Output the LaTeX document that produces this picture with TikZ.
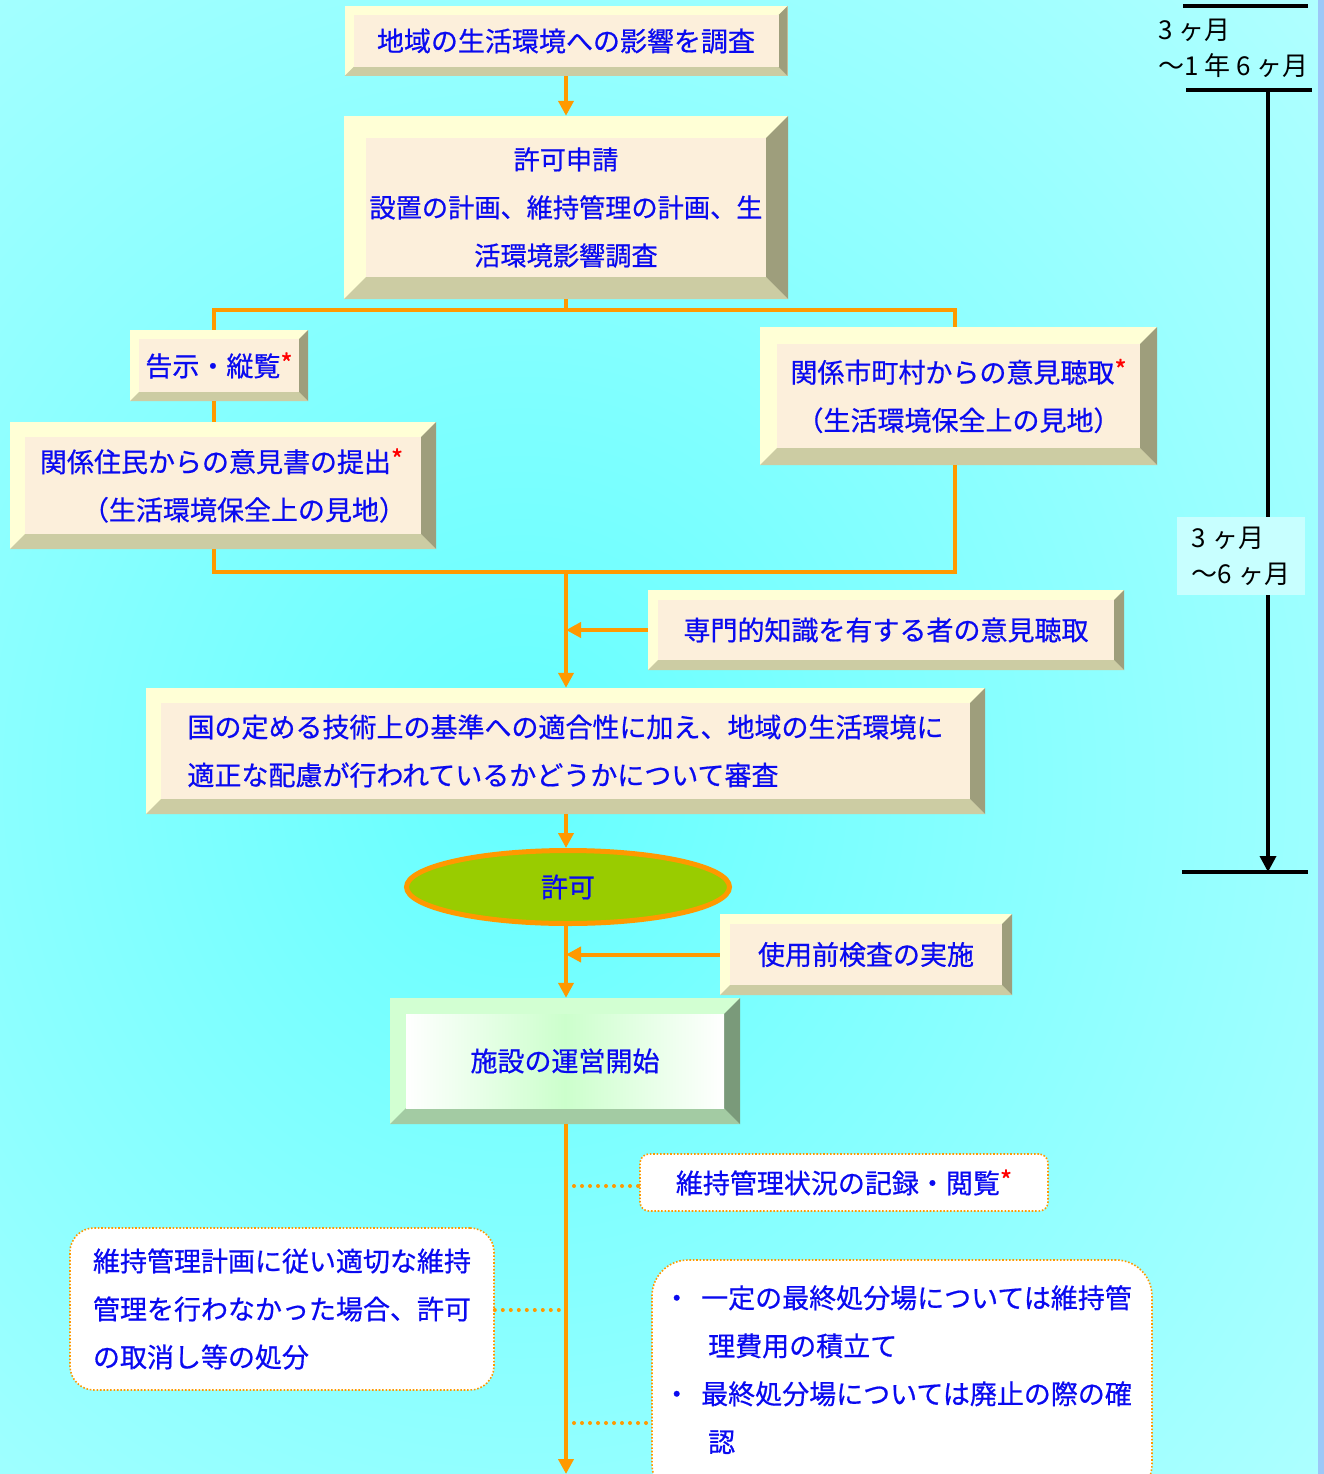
\documentclass[tikz,border=0pt]{standalone}
\usepackage{fontspec}
\setmainfont{Noto Sans CJK JP}[FakeBold=0.6]
\newfontfamily\tlfont{Noto Sans CJK JP}
\usetikzlibrary{arrows.meta,shapes.geometric}
\definecolor{bgin}{HTML}{66FFFF}
\definecolor{bgout}{HTML}{C6FFFF}
\definecolor{txtblue}{HTML}{0A0AF0}
\definecolor{org}{HTML}{FF9900}
\definecolor{bvL}{HTML}{FFFFD6}
\definecolor{bvB}{HTML}{CCCCA3}
\definecolor{bvR}{HTML}{9E9E7C}
\definecolor{bvF}{HTML}{FCEFDB}
\definecolor{gvL}{HTML}{D2FFD2}
\definecolor{gvB}{HTML}{A3CBA3}
\definecolor{gvR}{HTML}{7A9A7A}
\definecolor{gvF}{HTML}{CCFFCC}
\definecolor{kyokafill}{HTML}{99CC00}
\definecolor{edgeblue}{HTML}{9CC8F8}
\definecolor{lblbg}{HTML}{C8FFFF}
\newcommand{\mainfs}{\fontsize{27}{48}\selectfont}
\newcommand{\tlfs}{\tlfont\fontsize{26}{36}\selectfont}
\newcommand{\redstar}{\textcolor{red}{\raisebox{3pt}{\fontsize{26}{26}\selectfont *}}}
\def\bevw{10pt}
\newcommand{\bevdraw}[4]{%
  \pgfpointanchor{path picture bounding box}{south west}\pgfgetlastxy{\bxa}{\bya}%
  \pgfpointanchor{path picture bounding box}{north east}\pgfgetlastxy{\bxb}{\byb}%
  \fill[#1] (\bxa,\bya) rectangle (\bxb,\byb);
  \fill[#2] (\bxa,\bya) -- (\bxb,\bya) -- ({\bxb-\bevw},{\bya+\bevw}) -- ({\bxa+\bevw},{\bya+\bevw}) -- cycle;
  \fill[#3] (\bxb,\bya) -- (\bxb,\byb) -- ({\bxb-\bevw},{\byb-\bevw}) -- ({\bxb-\bevw},{\bya+\bevw}) -- cycle;
  \path[#4] ({\bxa+\bevw},{\bya+\bevw}) rectangle ({\bxb-\bevw},{\byb-\bevw});
}
\tikzset{
  bevw/.store in=\bevw,
  bevelbox/.style={rectangle, inner sep=0pt, fill=bvF, text=txtblue, align=center, font=\mainfs,
     path picture={\bevdraw{bvL}{bvB}{bvR}{fill=bvF}}},
  greenbox/.style={rectangle, inner sep=0pt, fill=gvF, text=txtblue, align=center, font=\mainfs,
     path picture={\bevdraw{gvL}{gvB}{gvR}{left color=white,right color=white,middle color=gvF}}},
  notebox/.style={rectangle, draw=org, line width=1.6pt, dash pattern=on 1.6pt off 1.8pt, fill=white,
     text=txtblue, font=\mainfs, align=left, inner sep=0pt},
  oline/.style={draw=org, line width=4pt},
  oarrow/.style={oline, -{Triangle[width=15pt,length=15pt]}},
  odot/.style={draw=org, line width=4pt, line cap=round, dash pattern=on 0pt off 8pt},
  tline/.style={draw=black, line width=3.5pt},
}
\begin{document}
\begin{tikzpicture}[x=1pt,y=-1pt]
\useasboundingbox (0,0) rectangle (1324,1474);
\begin{scope}
  \clip (0,0) rectangle (1324,1474);
  \shade[inner color=bgin, outer color=bgout] (-880,-740) rectangle (1920,2300);
  \fill[edgeblue] (1318,0) rectangle (1324,1474);
\end{scope}
\coordinate (axis) at (566,0);

% boxes
\node[bevelbox, bevw=9pt, minimum width=443pt, minimum height=70pt] (b1) at (566,41) {地域の生活環境への影響を調査};
\node[bevelbox, bevw=22pt, minimum width=444pt, minimum height=183pt, font=\fontsize{26.2}{48}\selectfont] (b2) at (566,207.5) {許可申請\\設置の計画、維持管理の計画、生\\活環境影響調査};
\node[bevelbox, bevw=9pt, minimum width=178pt, minimum height=71pt] (kokuji) at (219,365.5) {告示・縦覧\redstar};
\node[bevelbox, bevw=15pt, minimum width=426pt, minimum height=127pt, align=left] (jumin) at (223,485.5) {関係住民からの意見書の提出\redstar\\\hspace*{42pt}（生活環境保全上の見地）};
\node[bevelbox, bevw=17pt, minimum width=397pt, minimum height=138pt] (shichoson) at (958.5,396) {関係市町村からの意見聴取\redstar\\（生活環境保全上の見地）};
\node[bevelbox, bevw=10pt, minimum width=476pt, minimum height=80pt] (senmon) at (886,630) {専門的知識を有する者の意見聴取};
\node[bevelbox, bevw=15pt, minimum width=839pt, minimum height=126pt, align=left] (kuni) at (565.5,751) {国の定める技術上の基準への適合性に加え、地域の生活環境に\\適正な配慮が行われているかどうかについて審査};
\node[ellipse, draw=org, line width=5pt, fill=kyokafill, minimum width=323pt, minimum height=73pt, inner sep=0pt, text=txtblue, font=\mainfs] (kyoka) at (568,887) {許可};
\node[bevelbox, bevw=10pt, minimum width=292pt, minimum height=81pt] (shiyou) at (866,954.5) {使用前検査の実施};
\node[greenbox, bevw=16pt, minimum width=350pt, minimum height=126pt] (shisetsu) at (565,1061) {施設の運営開始};
\node[notebox, rounded corners=9pt, minimum width=408pt, minimum height=57pt, align=center] (kiroku) at (844,1182.5) {維持管理状況の記録・閲覧\redstar};
\node[notebox, rounded corners=24pt, minimum width=424pt, minimum height=162pt] (torikeshi) at (282,1309) {維持管理計画に従い適切な維持\\管理を行わなかった場合、許可\\の取消し等の処分};
\node[notebox, rounded corners=36pt, minimum width=500pt, minimum height=240pt] (rbox) at (902,1380) {};
\node[text=txtblue, font=\mainfs, align=left, anchor=north west, inner sep=0pt] (rtxt) at (663,1285) {・\hspace*{11pt}一定の最終処分場については維持管\\\hspace*{45pt}理費用の積立て\\・\hspace*{11pt}最終処分場については廃止の際の確\\\hspace*{45pt}認};

% coordinates for the branching
\coordinate (jL) at (214,310);
\coordinate (jR) at (955,310);
\coordinate (mL) at (214,572);
\coordinate (mR) at (955,572);
\coordinate (mC) at (566,572);
\coordinate (endp) at (566,1474);
\coordinate (d1) at (566,1186);
\coordinate (d2) at (566,1310);
\coordinate (d3) at (566,1423);

% orange connectors
\draw[oarrow] (b1.south -| axis) -- (b2.north -| axis);
\draw[oline] (b2.south -| axis) |- (jL) -- (jL |- kokuji.north);
\draw[oline] (b2.south -| axis) |- (jR) -- (jR |- shichoson.north);
\draw[oline] (jL |- kokuji.south) -- (jL |- jumin.north);
\draw[oline] (jL |- jumin.south) -- (mL) -- (mR) -- (jR |- shichoson.south);
\draw[oarrow] (mC) -- (kuni.north -| axis);
\draw[oarrow] (senmon.west) -- (senmon.west -| axis);
\draw[oarrow] (kuni.south -| axis) -- (kyoka.north -| axis);
\draw[oarrow] (kyoka.south -| axis) -- (shisetsu.north -| axis);
\draw[oarrow] (shiyou.west) -- (shiyou.west -| axis);
\draw[oarrow] (shisetsu.south -| axis) -- (endp);
\draw[odot] (d1) -- (d1 -| kiroku.west);
\draw[odot] (torikeshi.east |- d2) -- (d2);
\draw[odot] (d3) -- (d3 -| rbox.west);

% timeline
\coordinate (tA1) at (1183,6);
\coordinate (tA2) at (1308,6);
\coordinate (tB1) at (1186,90);
\coordinate (tB2) at (1312,90);
\coordinate (tV) at (1268,90);
\coordinate (tC1) at (1182,872);
\coordinate (tC2) at (1308,872);
\draw[tline] (tA1) -- (tA2);
\draw[tline] (tB1) -- (tB2);
\draw[tline] (tC1) -- (tC2);
\node[font=\tlfs, align=left, anchor=west, inner sep=0pt] (tlA) at (1158,48) {3 ヶ月\\～1 年 6 ヶ月};
\node[fill=lblbg, minimum width=128pt, minimum height=78pt, font=\tlfs, align=left, inner sep=0pt] (tlB) at (1241,556) {3 ヶ月\\～6 ヶ月};
\draw[tline] (tV) -- (tV |- tlB.north);
\draw[tline, -{Triangle[width=16pt,length=16pt]}] (tV |- tlB.south) -- (tV |- tC1);
\end{tikzpicture}
\end{document}
